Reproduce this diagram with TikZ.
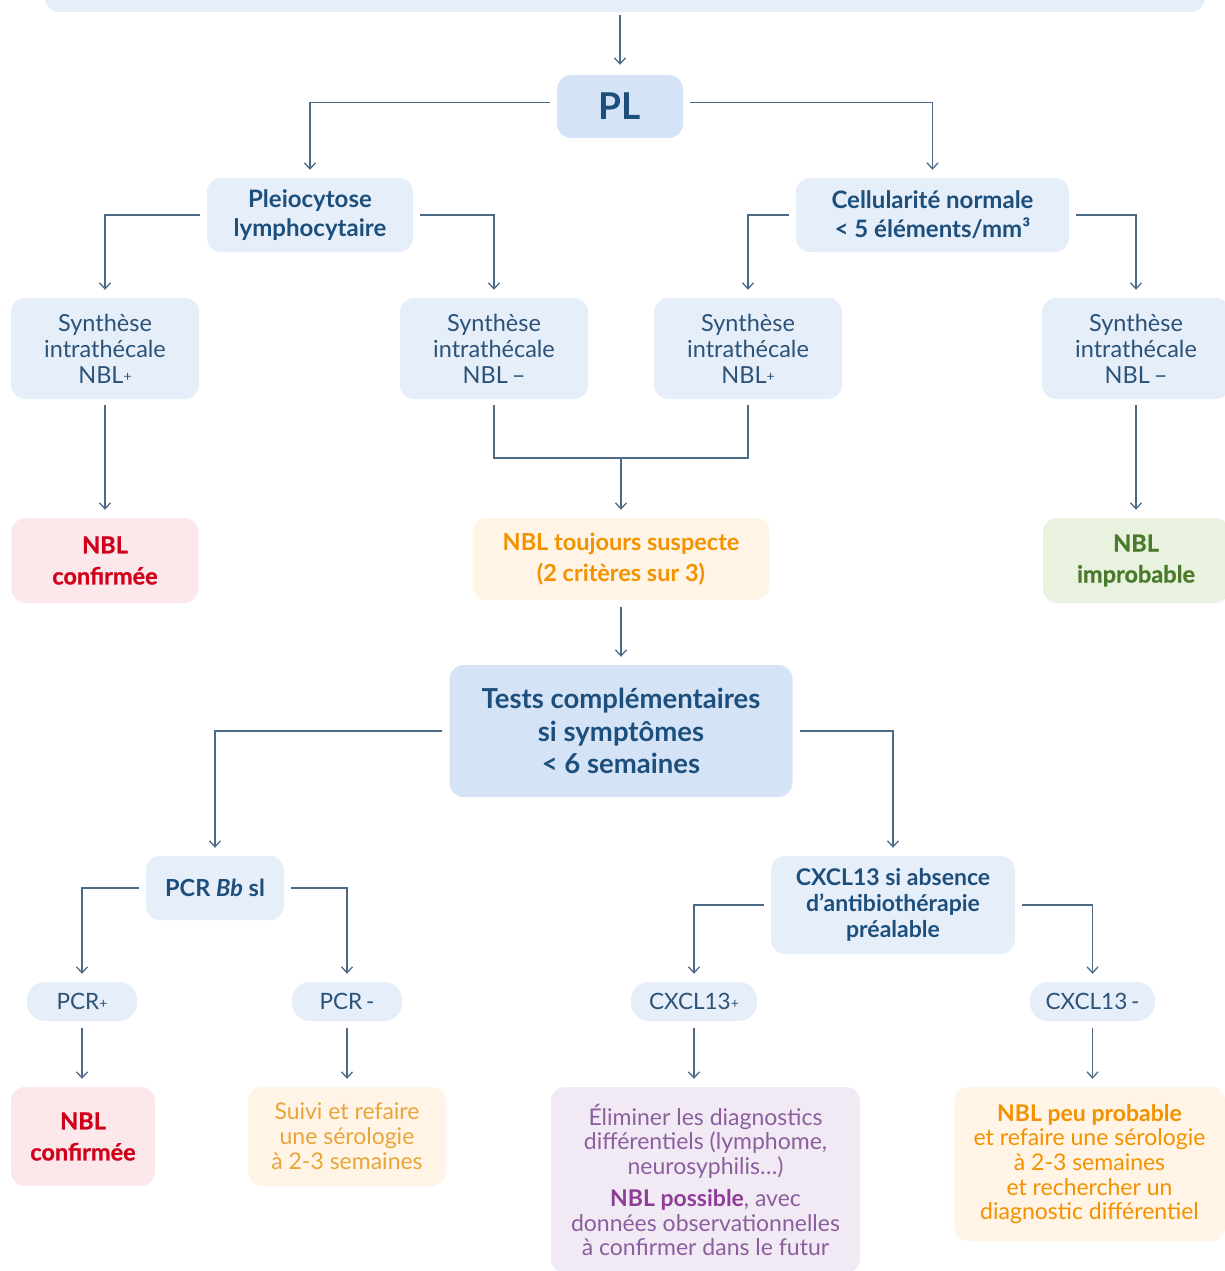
\documentclass[tikz,border=0pt]{standalone}
\usepackage{fontspec}
\setmainfont{Lato}
\newfontfamily\heavyfont{Lato}[FakeBold=0.8]
\usetikzlibrary{arrows.meta}
\definecolor{linec}{HTML}{4D6B87}
\definecolor{bluefill}{HTML}{E6EEFA}
\definecolor{bluefillb}{HTML}{D5E3F6}
\definecolor{bluetext}{HTML}{1D4F7C}
\definecolor{bluetextr}{HTML}{2B5278}
\definecolor{redtext}{HTML}{D0021B}
\definecolor{redfill}{HTML}{FCE8EA}
\definecolor{orangetext}{HTML}{F39200}
\definecolor{orangelight}{HTML}{E9A53A}
\definecolor{orangefill}{HTML}{FFF4E5}
\definecolor{greentext}{HTML}{4B7A2C}
\definecolor{greenfill}{HTML}{E9F2DF}
\definecolor{purpletext}{HTML}{8C5E9E}
\definecolor{purplebold}{HTML}{8E3D96}
\definecolor{purplefill}{HTML}{F1EAF5}
\newcommand\smallplus{\raisebox{1.5pt}{\fontsize{14}{14}\selectfont+}}
\begin{document}
\begin{tikzpicture}[x=1pt,y=-1pt,
  box/.style={rounded corners=14pt, inner sep=0pt, align=center},
  bluebox/.style={box, fill=bluefill, text=bluetext},
  bluebig/.style={box, fill=bluefillb, text=bluetext},
  synbox/.style={box, fill=bluefill, text=bluetextr, minimum width=188, minimum height=101,
    font=\fontsize{23.5}{26}\selectfont},
  smallbox/.style={box, fill=bluefill, text=bluetextr, minimum height=39,
    font=\fontsize{22.5}{24}\selectfont, rounded corners=18pt},
  redbox/.style={box, fill=redfill, text=redtext, font=\fontsize{23.5}{31}\selectfont\heavyfont\bfseries},
  conn/.style={draw=linec, line width=1.3pt, -{Straight Barb[length=6pt,width=11pt]},
    shorten <=7pt, shorten >=8pt},
  link/.style={draw=linec, line width=1.3pt, shorten <=6pt}
]
\useasboundingbox (0,0) rectangle (1225,1271);

% nodes
\node[box, fill=bluefill, minimum width=1160, minimum height=64] (top) at (625,-20) {};
\node[bluebig, minimum width=126, minimum height=63, font=\fontsize{37}{40}\selectfont\bfseries] (pl) at (620,106.5) {PL};
\node[bluebox, minimum width=206, minimum height=74, font=\fontsize{24}{29}\selectfont\bfseries] (pleio) at (310,215) {Pleiocytose\\lymphocytaire};
\node[bluebox, minimum width=273, minimum height=74, font=\fontsize{24}{29}\selectfont\bfseries] (cell) at (932.5,215) {Cellularité normale\\< 5 éléments/mm³};

\node[synbox] (s1) at (105,348.5) {Synthèse\\intrathécale\\NBL\smallplus};
\node[synbox] (s2) at (494,348.5) {Synthèse\\intrathécale\\NBL\,–};
\node[synbox] (s3) at (748,348.5) {Synthèse\\intrathécale\\NBL\smallplus};
\node[synbox] (s4) at (1136,348.5) {Synthèse\\intrathécale\\NBL\,–};

\node[redbox, minimum width=187, minimum height=85] (conf1) at (105,560.5) {NBL\\confirmée};
\node[box, fill=orangefill, text=orangetext, minimum width=297, minimum height=82,
  font=\fontsize{23.5}{31}\selectfont\bfseries] (susp) at (621,559) {NBL toujours suspecte\\(2 critères sur 3)};
\node[box, fill=greenfill, text=greentext, minimum width=186, minimum height=85,
  font=\fontsize{23.5}{31}\selectfont\heavyfont\bfseries] (impr) at (1136,560.5) {NBL\\improbable};

\node[bluebig, minimum width=343, minimum height=132, font=\fontsize{27.5}{32.5}\selectfont\bfseries] (tests) at (621,731) {Tests complémentaires\\si symptômes\\< 6 semaines};

\node[bluebox, minimum width=138, minimum height=64, font=\fontsize{23.5}{24}\selectfont\bfseries] (pcr) at (215,888) {PCR \textit{Bb} sl};
\node[bluebox, minimum width=244, minimum height=98, font=\fontsize{23}{26}\selectfont\bfseries] (cx) at (893,905) {CXCL13 si absence\\d'antibiothérapie\\préalable};

\node[smallbox, minimum width=110] (pcrp) at (82,1001.5) {PCR\smallplus};
\node[smallbox, minimum width=110] (pcrm) at (347,1001.5) {PCR\,-};
\node[smallbox, minimum width=126] (cxp) at (694,1001.5) {CXCL13\smallplus};
\node[smallbox, minimum width=125] (cxm) at (1092.5,1001.5) {CXCL13\,-};

\node[redbox, minimum width=144, minimum height=99] (conf2) at (83,1136.5) {NBL\\confirmée};
\node[box, fill=orangefill, text=orangelight, minimum width=198, minimum height=99,
  font=\fontsize{23}{25}\selectfont] (suivi) at (347,1136.5) {Suivi et refaire\\une sérologie\\à 2-3 semaines};
\node[box, fill=purplefill, text=purpletext, minimum width=309, minimum height=186,
  font=\fontsize{23}{24.5}\selectfont] (elim) at (705.5,1180) {Éliminer les diagnostics\\différentiels (lymphome,\\neurosyphilis…)\\[8pt]{\bfseries\color{purplebold}NBL possible}, avec\\données observationnelles\\à confirmer dans le futur};
\node[box, fill=orangefill, text=orangetext, minimum width=271, minimum height=154,
  font=\fontsize{23}{24.7}\selectfont] (peu) at (1089.5,1164) {{\bfseries NBL peu probable}\\et refaire une sérologie\\à 2-3 semaines\\et rechercher un\\diagnostic différentiel};

\coordinate (m) at (621,458);

% connectors
\draw[conn, shorten <=3pt, shorten >=10pt] (pl |- top.south) -- (pl);
\draw[conn] ([yshift=4pt]pl.west) -| (pleio.north);
\draw[conn] ([yshift=4pt]pl.east) -| (cell.north);
\draw[conn] (pleio.west) -| (s1.north);
\draw[conn] (pleio.east) -| (s2.north);
\draw[conn] (cell.west) -| (s3.north);
\draw[conn] (cell.east) -| (s4.north);
\draw[conn, shorten <=6pt] (s1.south) -- (conf1.north);
\draw[conn, shorten <=6pt] (s4.south) -- (impr.north);
\draw[link] (s2.south) |- (m);
\draw[link] (s3.south) |- (m);
\draw[conn, shorten <=0pt] (m) -- (susp.north);
\draw[conn] (susp.south) -- (tests.north);
\draw[conn] (tests.west) -| (pcr.north);
\draw[conn] (tests.east) -| (cx.north);
\draw[conn] (pcr.west) -| (pcrp.north);
\draw[conn] (pcr.east) -| (pcrm.north);
\draw[conn] (cx.west) -| (cxp.north);
\draw[conn] (cx.east) -| (cxm.north);
\draw[conn] (pcrp.south) -- (pcrp.south |- conf2.north);
\draw[conn] (pcrm.south) -- (suivi.north);
\draw[conn] (cxp) -- (cxp |- elim.north);
\draw[conn] (cxm) -- (cxm |- peu.north);
\end{tikzpicture}
\end{document}
